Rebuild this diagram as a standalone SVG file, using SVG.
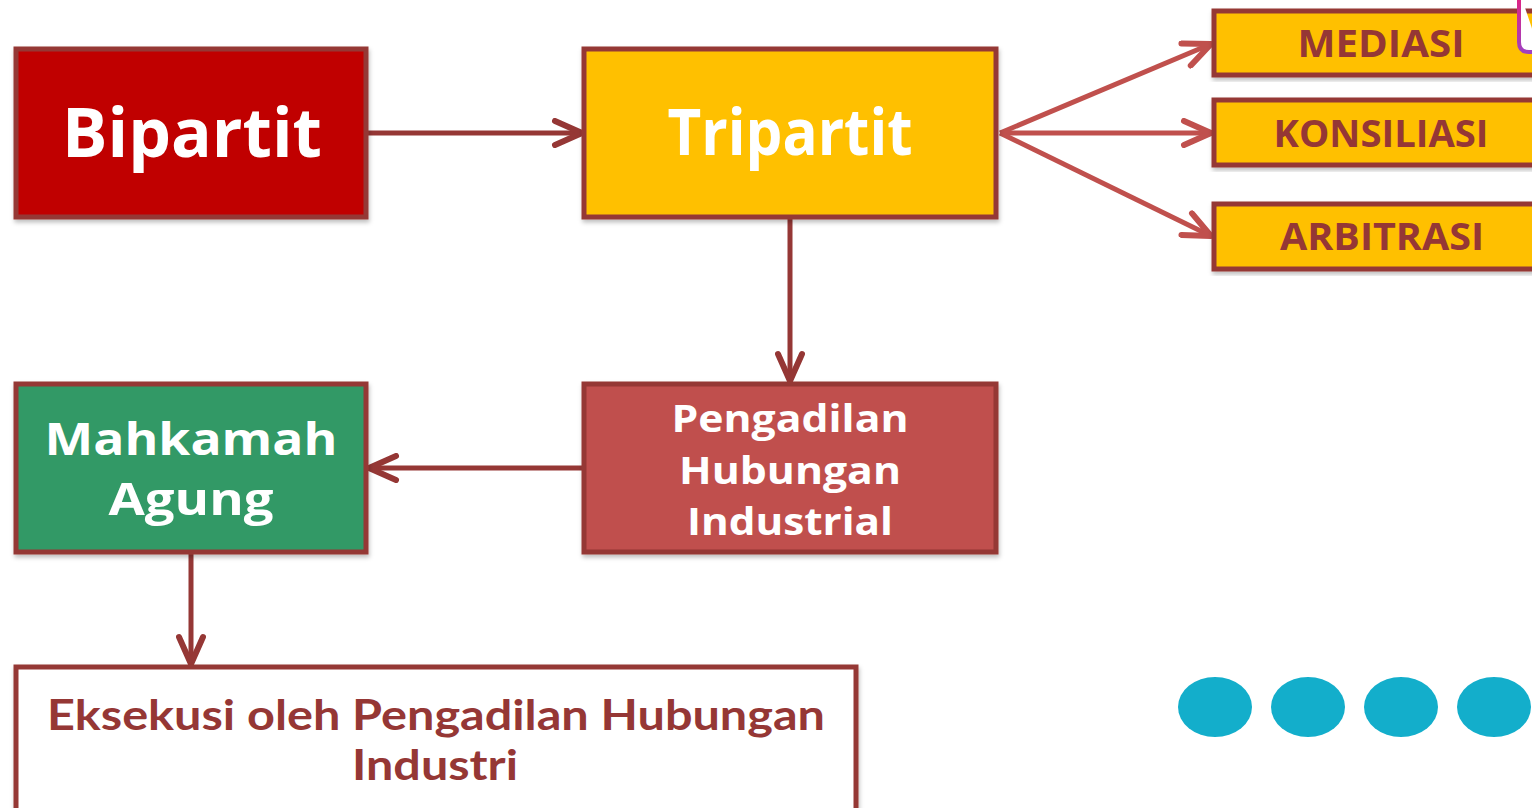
<svg xmlns="http://www.w3.org/2000/svg" width="1532" height="808" viewBox="0 0 1532 808">
<defs>
<marker id="arr" viewBox="0 0 34 30" refX="31" refY="15" markerWidth="34" markerHeight="30" markerUnits="userSpaceOnUse" orient="auto">
<path d="M4,3 L31,15 L4,27" fill="none" stroke="#953735" stroke-width="6" stroke-linecap="round" stroke-linejoin="round"/>
</marker>
<marker id="arr2" viewBox="0 0 34 30" refX="31" refY="15" markerWidth="34" markerHeight="30" markerUnits="userSpaceOnUse" orient="auto">
<path d="M4,3 L31,15 L4,27" fill="none" stroke="#C0504D" stroke-width="6" stroke-linecap="round" stroke-linejoin="round"/>
</marker>
<linearGradient id="pg" x1="0" y1="0" x2="0" y2="1">
<stop offset="0" stop-color="#E8207A"/>
<stop offset="1" stop-color="#A040C0"/>
</linearGradient>
<filter id="sh" x="-5%" y="-5%" width="110%" height="115%">
<feDropShadow dx="1" dy="3" stdDeviation="2" flood-color="#000" flood-opacity="0.25"/>
</filter>
</defs>
<style>
.box{stroke:#953735;stroke-width:5;filter:url(#sh)}
.wt{font-family:"Open Sans","DejaVu Sans",sans-serif;font-weight:bold;fill:#FFFFFF;text-anchor:middle}
.dt{font-family:"Open Sans","DejaVu Sans",sans-serif;font-weight:bold;fill:#953735;text-anchor:middle}
.et{font-family:"Lato","Open Sans",sans-serif;font-weight:bold;fill:#953735;text-anchor:middle}
.ln{stroke:#953735;stroke-width:5;fill:none;marker-end:url(#arr)}
.ln2{stroke:#C0504D;stroke-width:5;fill:none;marker-end:url(#arr2)}
.dot{fill:#13AECB}
</style>
<rect x="0" y="0" width="1532" height="808" fill="#FFFFFF"/>
<g id="connectors">
<line class="ln" x1="368" y1="133" x2="582" y2="133"/>
<line class="ln" x1="790" y1="219" x2="790" y2="381"/>
<line class="ln" x1="582" y1="468" x2="369" y2="468"/>
<line class="ln" x1="191" y1="554" x2="191" y2="664"/>
<line class="ln2" x1="1000" y1="133" x2="1211" y2="44"/>
<line class="ln2" x1="1000" y1="133" x2="1211" y2="133"/>
<line class="ln2" x1="1000" y1="133" x2="1211" y2="236"/>
</g>
<g id="bipartit">
<rect class="box" x="16" y="49" width="350" height="168" fill="#C00000"/>
<text class="wt" x="192" y="157" font-size="68" textLength="260" lengthAdjust="spacingAndGlyphs">Bipartit</text>
</g>
<g id="tripartit">
<rect class="box" x="584" y="49" width="412" height="168" fill="#FFC000"/>
<text class="wt" x="790" y="155" font-size="64" textLength="245" lengthAdjust="spacingAndGlyphs">Tripartit</text>
</g>
<g id="mediasi">
<rect class="box" x="1214" y="11" width="330" height="64" fill="#FFC000"/>
<text class="dt" x="1381" y="57" font-size="38" textLength="167" lengthAdjust="spacingAndGlyphs">MEDIASI</text>
</g>
<g id="konsiliasi">
<rect class="box" x="1214" y="100" width="330" height="65" fill="#FFC000"/>
<text class="dt" x="1381" y="147" font-size="38" textLength="215" lengthAdjust="spacingAndGlyphs">KONSILIASI</text>
</g>
<g id="arbitrasi">
<rect class="box" x="1214" y="204" width="330" height="65" fill="#FFC000"/>
<text class="dt" x="1382" y="250" font-size="38" textLength="204" lengthAdjust="spacingAndGlyphs">ARBITRASI</text>
</g>
<path d="M1519,-10 L1519,42 Q1519,52 1529,52 L1540,52" fill="#FFFFFF" stroke="url(#pg)" stroke-width="4"/>
<g id="pengadilan">
<rect class="box" x="584" y="384" width="412" height="168" fill="#C0504D"/>
<text class="wt" x="790" y="432" font-size="38" textLength="237" lengthAdjust="spacingAndGlyphs">Pengadilan</text>
<text class="wt" x="790" y="484" font-size="38" textLength="222" lengthAdjust="spacingAndGlyphs">Hubungan</text>
<text class="wt" x="790" y="535" font-size="38" textLength="206" lengthAdjust="spacingAndGlyphs">Industrial</text>
</g>
<g id="mahkamah">
<rect class="box" x="16" y="384" width="350" height="168" fill="#339966"/>
<text class="wt" x="191" y="455" font-size="44" textLength="293" lengthAdjust="spacingAndGlyphs">Mahkamah</text>
<text class="wt" x="191" y="515" font-size="44" textLength="165" lengthAdjust="spacingAndGlyphs">Agung</text>
</g>
<g id="eksekusi">
<rect class="box" x="16" y="667" width="840" height="150" fill="#FFFFFF"/>
<text class="et" x="436" y="730" font-size="42" textLength="778" lengthAdjust="spacingAndGlyphs">Eksekusi oleh Pengadilan Hubungan</text>
<text class="et" x="435" y="780" font-size="42" textLength="166" lengthAdjust="spacingAndGlyphs">Industri</text>
</g>
<g id="dots">
<ellipse class="dot" cx="1215" cy="707" rx="37" ry="30"/>
<ellipse class="dot" cx="1308" cy="707" rx="37" ry="30"/>
<ellipse class="dot" cx="1401" cy="707" rx="37" ry="30"/>
<ellipse class="dot" cx="1494" cy="707" rx="37" ry="30"/>
</g>
</svg>
